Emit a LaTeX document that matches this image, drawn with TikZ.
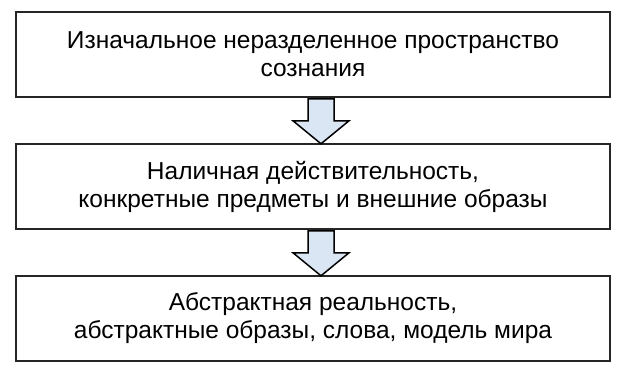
\documentclass[tikz,border=0pt]{standalone}
\usepackage{fontspec}
\setmainfont{Liberation Sans}
\usetikzlibrary{calc}

\begin{document}
\begin{tikzpicture}[x=1pt,y=-1pt]
\tikzset{
  stagebox/.style={rectangle,draw=black!85,line width=1.6pt,minimum width=594pt,minimum height=85pt,
    inner sep=0pt,align=center,font=\fontsize{24.5}{28}\selectfont},
  blockarrow/.style={draw=black,line width=1.5pt,fill={rgb,255:red,218;green,230;blue,244},line join=miter}
}
\useasboundingbox (0,0) rectangle (627,374);
\node[stagebox] (box1) at (313,54.5) {Изначальное неразделенное пространство\\сознания};
\node[stagebox] (box2) at (313,186.5) {Наличная действительность,\\конкретные предметы и внешние образы};
\node[stagebox] (box3) at (313,318.5) {Абстрактная реальность,\\абстрактные образы, слова, модель мира};
\coordinate (arr1) at ($(box1.south)+(8,0)$);
\coordinate (arr2) at ($(box2.south)+(8,0)$);
\draw[blockarrow] (arr1) ++(-13,1) -- ++(0,22) -- ++(-15,0) -- ++(28,23) -- ++(28,-23) -- ++(-15,0) -- ++(0,-22) -- cycle;
\draw[blockarrow] (arr2) ++(-13,1) -- ++(0,22) -- ++(-15,0) -- ++(28,23) -- ++(28,-23) -- ++(-15,0) -- ++(0,-22) -- cycle;
\end{tikzpicture}
\end{document}
